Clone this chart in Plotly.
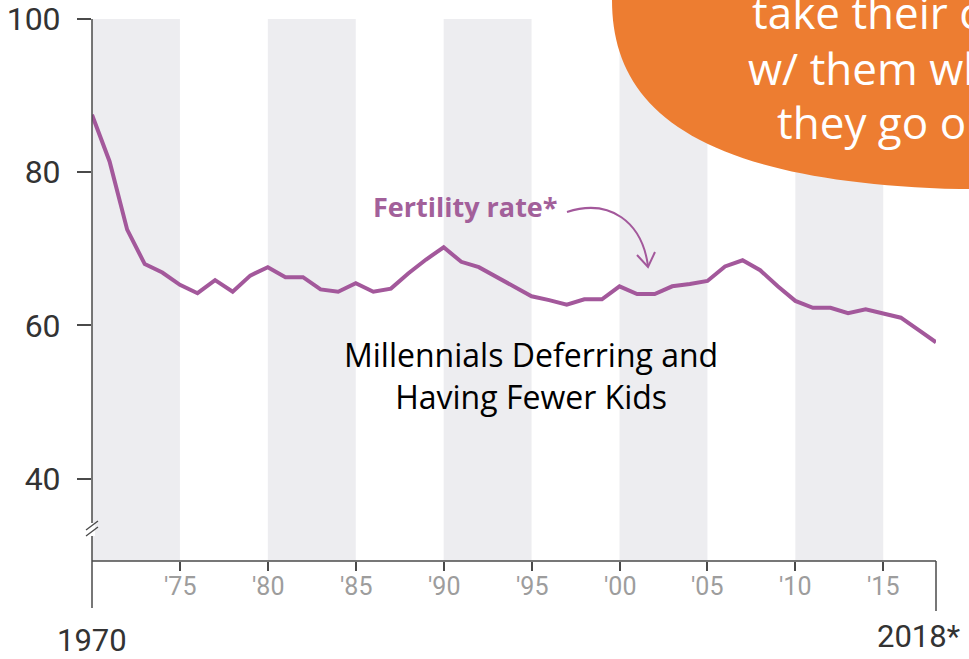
import plotly.graph_objects as go

# ---- data ----
years = list(range(1970, 2019))
fertility_rate = [87.5, 81.4, 72.5, 68.0, 66.9, 65.3, 64.2, 65.9, 64.4, 66.5,
                  67.6, 66.3, 66.3, 64.7, 64.4, 65.5, 64.4, 64.8, 66.8, 68.6,
                  70.2, 68.3, 67.6, 66.3, 65.1, 63.8, 63.3, 62.7, 63.4, 63.4,
                  65.1, 64.1, 64.1, 65.1, 65.4, 65.8, 67.7, 68.5, 67.2, 65.1,
                  63.2, 62.3, 62.3, 61.6, 62.1, 61.6, 61.0, 59.4, 57.8]
y_tick_vals = [40, 60, 80, 100]
y_tick_text = ["40", "60", "80", "100"]
x_tick_vals = [1975, 1980, 1985, 1990, 1995, 2000, 2005, 2010, 2015]
x_tick_text = ["'75", "'80", "'85", "'90", "'95", "'00", "'05", "'10", "'15"]
band_starts = [1970, 1980, 1990, 2000, 2010]
band_width = 5
bubble_lines = ["take their children", "w/ them when", "they go out"]
center_title = "Millennials Deferring and<br>Having Fewer Kids"
series_label = "Fertility rate*"

# ---- layout geometry ----
W, H = 969, 659
ML, MR, MT, MB = 92, 33, 19, 98
PW, PH = W - ML - MR, H - MT - MB
Y_MIN, Y_MAX = 29.24, 100


def px(x):
    return (x - ML) / PW


def py(y):
    return (H - MB - y) / PH


def pt(x, y):
    return f"{px(x)},{py(y)}"


LINE_COLOR = "#a3589b"
AXIS_COLOR = "#4a4a4a"
FONT = "Roboto"

fig = go.Figure()
fig.add_trace(go.Scatter(x=years, y=fertility_rate, mode="lines",
                         line=dict(color=LINE_COLOR, width=4),
                         hoverinfo="skip", showlegend=False))

shapes = []
for s in band_starts:
    shapes.append(dict(type="rect", xref="x", yref="paper", x0=s, x1=s + band_width,
                       y0=0, y1=1, fillcolor="#ededf0", line=dict(width=0), layer="below"))

# axis lines and extensions below the x axis (1970 and 2018 markers)
shapes.append(dict(type="line", xref="paper", yref="paper", x0=0, x1=0,
                   y0=py(608), y1=1, line=dict(color=AXIS_COLOR, width=1.5)))
shapes.append(dict(type="line", xref="paper", yref="paper", x0=1, x1=1,
                   y0=0, y1=py(611), line=dict(color=AXIS_COLOR, width=1.5)))
shapes.append(dict(type="line", xref="paper", yref="paper", x0=0, x1=1,
                   y0=0, y1=0, line=dict(color=AXIS_COLOR, width=1.5)))

# axis break marks
shapes.append(dict(type="rect", xref="paper", yref="paper", x0=px(89), x1=px(95),
                   y0=py(536), y1=py(523), fillcolor="white", line=dict(width=0)))
for off in (0, 6):
    shapes.append(dict(type="line", xref="paper", yref="paper",
                       x0=px(86), y0=py(530 + off), x1=px(98), y1=py(521 + off),
                       line=dict(color=AXIS_COLOR, width=1.3)))

# arrow from label to the line
arrow_path = f"M {pt(567, 212)} C {pt(610, 198)} {pt(642, 222)} {pt(648, 266)}"
shapes.append(dict(type="path", xref="paper", yref="paper", path=arrow_path,
                   line=dict(color=LINE_COLOR, width=2)))
head_path = f"M {pt(637, 255)} L {pt(648, 267)} L {pt(655, 252)}"
shapes.append(dict(type="path", xref="paper", yref="paper", path=head_path,
                   line=dict(color=LINE_COLOR, width=2)))

# orange bubble in the top-right corner (smooth curve)
bp = (f"M {pt(610, -20)} L {pt(612, 0)} C {pt(612, 105)} {pt(690, 182)} {pt(960, 189)}"
      f" L {pt(1000, 189)} L {pt(1000, -20)} Z")
shapes.append(dict(type="path", xref="paper", yref="paper", path=bp,
                   fillcolor="#ed7d31", line=dict(width=0), layer="above"))

annotations = []
for txt, x0, yc in zip(bubble_lines, [750, 746, 775], [12, 68, 122]):
    annotations.append(dict(text=txt, xref="paper", yref="paper", x=px(x0), y=py(yc),
                            xanchor="left", yanchor="middle", showarrow=False,
                            font=dict(family="Open Sans", size=44, color="white")))

annotations.append(dict(text=series_label, xref="paper", yref="paper", x=px(371), y=py(207),
                        xanchor="left", yanchor="middle", showarrow=False,
                        font=dict(family="Open Sans", size=27, color="#a2609a", weight="bold")))

annotations.append(dict(text=center_title, xref="paper", yref="paper", x=px(531), y=py(375),
                        xanchor="center", yanchor="middle", showarrow=False, align="center",
                        font=dict(family="Open Sans", size=32, color="black")))

# x tick labels, placed at the axis' own tick positions
for v, t in zip(x_tick_vals, x_tick_text):
    annotations.append(dict(text=t, xref="x", yref="paper", x=v, y=py(586),
                            xanchor="center", yanchor="middle", showarrow=False,
                            font=dict(family=FONT, size=25, color="#9d9d9d")))

annotations.append(dict(text="1970", xref="x", yref="paper", x=1970, y=py(640),
                        xanchor="center", yanchor="middle", showarrow=False,
                        font=dict(family=FONT, size=31, color="#333333")))
annotations.append(dict(text="2018*", xref="paper", yref="paper", x=px(875), y=py(636),
                        xanchor="left", yanchor="middle", showarrow=False,
                        font=dict(family=FONT, size=31, color="#333333")))

fig.update_layout(
    width=W, height=H,
    margin=dict(l=ML, r=MR, t=MT, b=MB, pad=0, autoexpand=False),
    paper_bgcolor="white", plot_bgcolor="white",
    shapes=shapes, annotations=annotations,
    showlegend=False,
    xaxis=dict(range=[1970, 2018], tickvals=x_tick_vals, ticktext=x_tick_text,
               showticklabels=False,
               showgrid=False, zeroline=False, showline=False, automargin=False,
               ticks="outside", ticklen=9, tickwidth=1.5, tickcolor=AXIS_COLOR),
    yaxis=dict(range=[Y_MIN, Y_MAX], tickvals=y_tick_vals, ticktext=y_tick_text,
               showgrid=False, zeroline=False, showline=False, automargin=False,
               ticks="outside", ticklen=14, tickwidth=1.5, tickcolor=AXIS_COLOR,
               tickfont=dict(family=FONT, size=32, color="#333333"),
               ticklabelstandoff=10),
)

fig.write_html("out.html")
